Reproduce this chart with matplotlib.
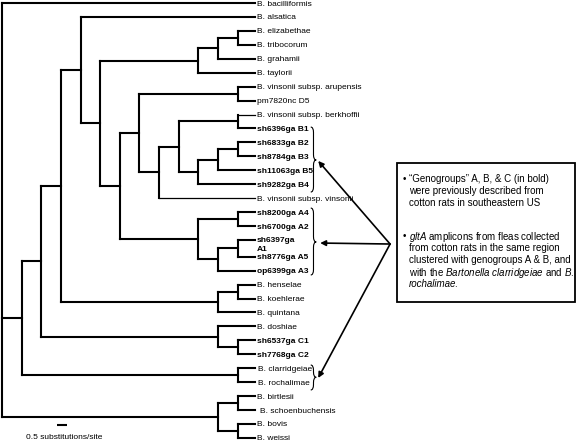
import matplotlib
matplotlib.use("Agg")
import matplotlib.pyplot as plt
from matplotlib.collections import LineCollection
from matplotlib.path import Path
from matplotlib.patches import PathPatch, Rectangle

plt.rcParams['font.family'] = ['Liberation Sans', 'DejaVu Sans']
plt.rcParams['mathtext.fontset'] = 'custom'
plt.rcParams['mathtext.rm'] = 'Liberation Sans'
plt.rcParams['mathtext.it'] = 'Liberation Sans:italic'

# ---- data: tree topology (cladogram) ----
TREE = [
    "B. bacilliformis",
    [
        [
            [
                [
                    "B. alsatica",
                    [
                        [[["B. elizabethae", "B. tribocorum"], "B. grahamii"], "B. taylorii"],
                        [
                            [
                                ["B. vinsonii subsp. arupensis", "pm7820nc D5"],
                                [
                                    [
                                        ["B. vinsonii subsp. berkhoffii", "sh6396ga B1"],
                                        [[["sh6833ga B2", "sh8784ga B3"], "sh11063ga B5"], "sh9282ga B4"],
                                    ],
                                    "B. vinsonii subsp. vinsonii",
                                ],
                            ],
                            [["sh8200ga A4", "sh6700ga A2"],
                             [["sh6397ga\nA1", "sh8776ga A5"], "op6399ga A3"]],
                        ],
                    ],
                ],
                [["B. henselae", "B. koehlerae"], "B. quintana"],
            ],
            ["B. doshiae", ["sh6537ga C1", "sh7768ga C2"]],
        ],
        ["B. clarridgeiae", "B. rochalimae"],
    ],
    [["B. birtlesii", "B. schoenbuchensis"], ["B. bovis", "B. weissi"]],
]

GENOGROUP_PREFIXES = ("sh", "op")
THIN_LEAVES = ["B. vinsonii subsp. berkhoffii", "B. vinsonii subsp. vinsonii"]
LABEL_SHIFT = {"B. clarridgeiae": 0.08, "B. rochalimae": 0.08, "B. schoenbuchensis": 0.15}

SCALE_LEN = 0.5
SCALE_LABEL = "0.5 substitutions/site"

# brackets: (top edge, bottom edge, tip) in leaf-row units
BRACES = [(8.9, 13.56, 11.26), (14.71, 19.51, 17.14), (25.97, 27.76, 26.85)]
ARROW_TARGETS = [(16.1, 11.33), (16.2, 17.22), (16.1, 26.9)]
ARROW_ORIGIN = (19.76, 17.29)

NOTE1 = ["\u201cGenogroups\u201d A, B, & C (in bold)",
         "were previously described from",
         "cotton rats in southeastern US"]
NOTE2 = [r"$\mathit{gltA}$ amplicons from fleas collected",
         "from cotton rats in the same region",
         "clustered with genogroups A & B, and",
         r"with the $\mathit{Bartonella\ clarridgeiae}$ and $\mathit{B.}$",
         "rochalimae."]
NOTE2_ITALIC_LINES = [4]

# ---- layout ----
PX_X, PX_Y = 19.64, 13.94
fig = plt.figure(figsize=(5.76, 4.42), dpi=100)
ax = fig.add_axes([0, 0, 1, 1])
ax.set_xlim(-2 / PX_X, 574 / PX_X)
ax.set_ylim(439 / PX_Y, -3 / PX_Y)
ax.axis("off")

leaves = []
state = {"pos": 0.0}


def height(node):
    if isinstance(node, str):
        return 0
    return 1 + max(height(c) for c in node)


NLEV = height(TREE)
segs, segs_thin = [], []


def layout(node):
    if isinstance(node, str):
        y = state["pos"]
        state["pos"] += 1.0 + (0.2 if "\n" in node else 0.0)
        leaves.append((node, y))
        return NLEV - 0.1, y
    kids = [layout(c) for c in node]
    x = NLEV - height(node)
    y0, y1 = kids[0][1], kids[-1][1]
    segs.append([(x, y0), (x, y1)])
    for c, k in zip(node, kids):
        target = segs_thin if (isinstance(c, str) and c in THIN_LEAVES) else segs
        target.append([(x, k[1]), (k[0], k[1])])
    return x, (y0 + y1) / 2


layout(TREE)
ax.add_collection(LineCollection(segs, colors="black", linewidths=1.5, capstyle="projecting"))
ax.add_collection(LineCollection(segs_thin, colors="black", linewidths=0.9, capstyle="projecting"))

for name, y in leaves:
    bold = name.startswith(GENOGROUP_PREFIXES)
    x = NLEV - 0.03 + LABEL_SHIFT.get(name, 0)
    for j, ln in enumerate(name.split("\n")):
        ax.text(x, y + j * 0.62, ln, fontsize=6, fontweight="bold" if bold else "normal",
                ha="left", va="center_baseline")

# scale bar
sx, sy = 3.05, 30.27
ax.plot([sx - SCALE_LEN / 2, sx + SCALE_LEN / 2], [sy, sy], color="black", lw=1.5,
        solid_capstyle="butt")
ax.text(sx + 0.1, 31.13, SCALE_LABEL, fontsize=6, ha="center", va="center_baseline")


# braces
def brace(x0, y0, y1, ym, w=0.28, r=0.38):
    xm = x0 + w / 2
    verts = [(x0, y0), (xm, y0), (xm, y0 + r), (xm, ym - r), (xm, ym), (x0 + w, ym),
             (xm, ym), (xm, ym + r), (xm, y1 - r), (xm, y1), (x0, y1)]
    codes = [Path.MOVETO, Path.CURVE3, Path.CURVE3, Path.LINETO, Path.CURVE3, Path.CURVE3,
             Path.CURVE3, Path.CURVE3, Path.LINETO, Path.CURVE3, Path.CURVE3]
    ax.add_patch(PathPatch(Path(verts, codes), fc="none", ec="black", lw=0.8))


for y0, y1, ym in BRACES:
    brace(15.72, y0, y1, ym)

# note box
ax.add_patch(Rectangle((20.11, 11.48), 9.05, 9.97, fc="white", ec="black", lw=1.3))

for tx, ty in ARROW_TARGETS:
    ax.annotate("", xy=(tx, ty), xytext=ARROW_ORIGIN,
                arrowprops=dict(arrowstyle="-|>", color="black", lw=1.2,
                                mutation_scale=8, shrinkA=0, shrinkB=0))

bx, tx0 = 20.42, 20.72
for block, ystart, ital in ((NOTE1, 12.55, []), (NOTE2, 16.64, NOTE2_ITALIC_LINES)):
    ax.text(bx, ystart, "\u2022", fontsize=7, ha="left", va="center_baseline")
    for k, ln in enumerate(block):
        ax.text(tx0, ystart + k * 0.855, ln, fontsize=7, ha="left", va="center_baseline",
                fontstyle="italic" if k in ital else "normal")

fig.savefig("out.png", dpi=100)
